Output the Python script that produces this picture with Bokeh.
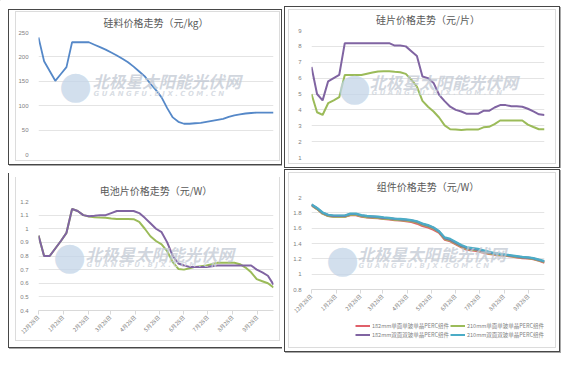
import pandas as pd
from bokeh.plotting import figure
from bokeh.models import Range1d, FixedTicker, Label, Legend, LegendItem, Title
from bokeh.layouts import row, column
from bokeh.embed import file_html
from bokeh.resources import INLINE

# weekly quotations
dates = pd.date_range("2022-12-28", periods=43, freq="7D")
tick_dates = pd.date_range("2022-12-28", periods=10, freq=pd.DateOffset(months=1))

# 硅料 (元/kg)
polysilicon = [240, 191, 171, 151, 165, 179, 230, 230, 230, 230, 225, 220, 215, 209, 203,
               196, 189, 180, 170, 160, 145, 132, 117, 95, 76, 67, 63, 63, 64, 65, 67, 69,
               71, 73, 77, 80, 82, 84, 85, 86, 86, 86, 86]

# 硅片 (元/片)
wafer_purple = [6.7, 5.0, 4.6, 5.8, 6.0, 6.2, 8.2, 8.2, 8.2, 8.2, 8.2, 8.2, 8.2, 8.2, 8.2,
                8.05, 8.05, 8.0, 7.7, 7.4, 6.1, 6.0, 5.7, 4.95, 4.55, 4.2, 4.0, 3.9, 3.75,
                3.75, 3.75, 3.94, 3.94, 4.15, 4.3, 4.3, 4.23, 4.23, 4.2, 4.07, 3.9, 3.72, 3.68]
wafer_green = [5.0, 3.85, 3.68, 4.42, 4.6, 4.8, 6.2, 6.2, 6.2, 6.2, 6.28, 6.35, 6.42, 6.44,
               6.44, 6.4, 6.37, 6.27, 5.9, 5.47, 4.57, 4.2, 3.9, 3.52, 3.02, 2.78, 2.76, 2.73,
               2.76, 2.76, 2.76, 2.9, 2.93, 3.1, 3.33, 3.33, 3.33, 3.33, 3.33, 3.07, 2.92, 2.78, 2.78]

# 电池片 (元/W)
cell_purple = [0.95, 0.80, 0.80, 0.855, 0.91, 0.97, 1.145, 1.13, 1.10, 1.092, 1.095, 1.10,
               1.10, 1.115, 1.13, 1.13, 1.13, 1.13, 1.115, 1.08, 1.04, 1.0, 0.975, 0.90, 0.80,
               0.745, 0.73, 0.72, 0.72, 0.72, 0.72, 0.725, 0.73, 0.73, 0.73, 0.73, 0.73, 0.73,
               0.73, 0.70, 0.68, 0.655, 0.59]
cell_green = [0.95, 0.80, 0.80, 0.855, 0.91, 0.97, 1.145, 1.13, 1.10, 1.09, 1.085, 1.082,
              1.08, 1.075, 1.072, 1.072, 1.072, 1.07, 1.05, 1.0, 0.945, 0.91, 0.885, 0.835,
              0.755, 0.705, 0.70, 0.71, 0.72, 0.725, 0.73, 0.74, 0.75, 0.75, 0.75, 0.75, 0.74,
              0.715, 0.68, 0.63, 0.615, 0.60, 0.57]

# 组件 (元/W)
module_names = ["182mm单面单玻单晶PERC组件", "210mm单面单玻单晶PERC组件",
                "182mm双面双玻单晶PERC组件", "210mm双面双玻单晶PERC组件"]
module_182_mono = [1.90, 1.85, 1.79, 1.76, 1.75, 1.75, 1.75, 1.77, 1.77, 1.75, 1.74, 1.735,
                   1.73, 1.72, 1.715, 1.705, 1.70, 1.69, 1.68, 1.66, 1.63, 1.61, 1.58, 1.54,
                   1.45, 1.43, 1.39, 1.35, 1.32, 1.31, 1.30, 1.28, 1.265, 1.255, 1.245, 1.24,
                   1.23, 1.22, 1.21, 1.205, 1.195, 1.175, 1.15]
module_210_mono = [1.90, 1.85, 1.79, 1.76, 1.75, 1.75, 1.75, 1.775, 1.775, 1.755, 1.745, 1.74,
                   1.735, 1.725, 1.72, 1.71, 1.705, 1.70, 1.69, 1.675, 1.645, 1.625, 1.595,
                   1.55, 1.46, 1.44, 1.40, 1.36, 1.33, 1.32, 1.31, 1.29, 1.27, 1.26, 1.25,
                   1.245, 1.235, 1.225, 1.215, 1.21, 1.20, 1.18, 1.16]
module_182_bi = [1.905, 1.86, 1.80, 1.77, 1.76, 1.76, 1.76, 1.785, 1.785, 1.765, 1.755, 1.75,
                 1.745, 1.735, 1.73, 1.72, 1.715, 1.71, 1.70, 1.685, 1.655, 1.635, 1.605,
                 1.555, 1.47, 1.45, 1.41, 1.37, 1.34, 1.33, 1.32, 1.30, 1.28, 1.27, 1.26, 1.25,
                 1.24, 1.23, 1.22, 1.215, 1.205, 1.185, 1.165]
module_210_bi = [1.91, 1.865, 1.805, 1.775, 1.765, 1.765, 1.765, 1.79, 1.79, 1.77, 1.76, 1.755,
                 1.75, 1.74, 1.735, 1.725, 1.72, 1.715, 1.705, 1.69, 1.66, 1.64, 1.61, 1.56,
                 1.48, 1.46, 1.42, 1.38, 1.35, 1.34, 1.33, 1.31, 1.29, 1.275, 1.265, 1.255,
                 1.245, 1.235, 1.225, 1.22, 1.21, 1.19, 1.17]

ticks_poly = [0, 50, 100, 150, 200, 250]
ticks_wafer = [1, 2, 3, 4, 5, 6, 7, 8, 9]
ticks_cell = [0.4, 0.5, 0.6, 0.7, 0.8, 0.9, 1, 1.1, 1.2]
labels_cell = ["0.4", "0.5", "0.6", "0.7", "0.8", "0.9", "1", "1.1", "1.2"]
ticks_module = [0.8, 1, 1.2, 1.4, 1.6, 1.8, 2]
labels_module = ["0.8", "1", "1.2", "1.4", "1.6", "1.8", "2"]

days = [(d - dates[0]).days for d in dates]
tick_days = [(d - dates[0]).days for d in tick_dates]
tick_labels = [f"{d.month}月{d.day}日" for d in tick_dates]

CJK = "Noto Sans CJK SC"
BLUE, PURPLE, GREEN, RED, CYAN = "#5588c8", "#8064a2", "#9bbb59", "#e0606a", "#4bacc6"
DARK, SHADOW, LIGHT = "#474747", "#a8a8a8", "#dcdcdc"


def seg(color, x, y, w, h):
    return f"linear-gradient({color},{color}) {x}px {y}px / {w}px {h}px no-repeat"


def frame_css(outer, inner, sides="tblr", extra=()):
    """CSS background drawing the screenshot frame lines (element pixel coords)."""
    x0, y0, x1, y1 = outer
    layers = list(extra)
    if "t" in sides:
        layers.append(seg(DARK, x0, y0, x1 - x0 + 1, 1))
    if "b" in sides:
        layers += [seg(DARK, x0, y1, x1 - x0 + 1, 1), seg(SHADOW, x0 + 1, y1 + 1, x1 - x0 + 1, 1)]
    if "l" in sides:
        layers.append(seg(DARK, x0, y0, 1, y1 - y0 + 1))
    if "r" in sides:
        layers += [seg(DARK, x1, y0, 1, y1 - y0 + 1), seg(SHADOW, x1 + 1, y0 + 1, 1, y1 - y0 + 1)]
    a0, b0, a1, b1 = inner
    if "t" in sides:
        layers.append(seg(LIGHT, a0, b0, a1 - a0 + 1, 1))
    if "b" in sides:
        layers.append(seg(LIGHT, a0, b1, a1 - a0 + 1, 1))
    layers.append(seg(LIGHT, a0, b0, 1, b1 - b0 + 1))
    layers.append(seg(LIGHT, a1, b0, 1, b1 - b0 + 1))
    return {"background": ", ".join(layers) + ", #ffffff"}


def panel(w, h, mb, css, yr, yticks, ylabels, title, title_offset, standoff, show_x):
    p = figure(width=w, height=h, output_backend="svg", toolbar_location=None,
               x_range=Range1d(days[0], days[-1]), y_range=Range1d(*yr),
               min_border_left=mb[0], min_border_right=mb[1],
               min_border_top=mb[2], min_border_bottom=mb[3],
               outline_line_color=None, background_fill_alpha=0,
               border_fill_alpha=0, styles=css)
    p.title = Title(text=title, text_font=CJK, text_font_size="10px", text_font_style="normal",
                    text_color="#595959", align="center", offset=title_offset, standoff=standoff)
    p.xgrid.visible = False
    p.ygrid.grid_line_color = "#e4e4e4"
    p.yaxis.ticker = FixedTicker(ticks=yticks)
    p.yaxis.major_label_overrides = {t: l for t, l in zip(yticks, ylabels)}
    p.yaxis.axis_line_color = None
    p.yaxis.major_tick_line_color = None
    p.yaxis.minor_tick_line_color = None
    p.yaxis.major_label_text_font_size = "6px"
    p.yaxis.major_label_text_color = "#808080"
    p.yaxis.major_label_text_font = "Liberation Sans"
    p.yaxis.major_label_standoff = 4
    if show_x:
        p.xaxis.ticker = FixedTicker(ticks=tick_days)
        p.xaxis.major_label_overrides = {t: l for t, l in zip(tick_days, tick_labels)}
        p.xaxis.axis_line_color = "#d9d9d9"
        p.xaxis.major_tick_line_color = "#d9d9d9"
        p.xaxis.major_tick_out = 4
        p.xaxis.major_tick_in = 0
        p.xaxis.minor_tick_line_color = None
        p.xaxis.major_label_orientation = 0.785
        p.xaxis.major_label_text_font_size = "5.5px"
        p.xaxis.major_label_text_font = CJK
        p.xaxis.major_label_text_color = "#808080"
        p.xaxis.major_label_standoff = 2
    else:
        p.xaxis.visible = False
    return p


def watermark(p, cn, en, logo):
    p.add_layout(Label(x=logo[0], y=logo[1], x_units="screen", y_units="screen", text="●",
                       text_font="DejaVu Sans", text_font_size="38px", text_color="#c3d5e8",
                       text_alpha=0.75, text_align="center", text_baseline="middle"))
    p.add_layout(Label(x=cn[0], y=cn[1], x_units="screen", y_units="screen",
                       text="北极星太阳能光伏网", text_font=CJK, text_font_size="16.5px",
                       text_font_style="bold italic", text_color="#c2c9d3", text_alpha=0.75,
                       text_baseline="middle"))
    p.add_layout(Label(x=en[0], y=en[1], x_units="screen", y_units="screen",
                       text="G U A N G F U . B J X . C O M . C N", text_font="DejaVu Sans",
                       text_font_size="7px", text_font_style="bold italic",
                       text_color="#cfd5dd", text_alpha=0.8, text_baseline="middle"))


# top-left: element at page (8, 8), 282 x 167 (faint corner pixel keeps the page origin)
p1 = panel(282, 167, (31, 8, 32, 13),
           frame_css((8, 9, 281, 164), (15, 11, 279, 160), extra=[seg("#ececec", 0, 0, 1, 1)]),
           (0, 250), ticks_poly, [str(t) for t in ticks_poly],
           "硅料价格走势（元/kg）", -6, 5, False)
p1.line(days, polysilicon, line_color=BLUE, line_width=1.8)
watermark(p1, (54, 74), (55, 61), (37, 70))

# top-right: element at page (290, 8), 279 x 168
p2 = panel(279, 168, (17, 16, 30, 11), frame_css((2, 6, 277, 167), (6, 9, 273, 163)),
           (1, 9), ticks_wafer, [str(t) for t in ticks_wafer],
           "硅片价格走势（元/片）", -3, 7, False)
p2.line(days, wafer_green, line_color=GREEN, line_width=2)
p2.line(days, wafer_purple, line_color=PURPLE, line_width=2)
watermark(p2, (58, 76), (60, 65), (43, 71))

# bottom-left: element at page (8, 175), 282 x 183
p3 = panel(282, 183, (38, 9, 34, 40), frame_css((8, 6, 281, 180), (15, 10, 279, 173), "bl"),
           (0.4, 1.2), ticks_cell, labels_cell,
           "电池片价格走势（元/W）", -9, 7, True)
p3.line(days, cell_green, line_color=GREEN, line_width=2)
p3.line(days, cell_purple, line_color=PURPLE, line_width=2)
watermark(p3, (47, 57), (48, 46), (31, 55))

# bottom-right: element at page (290, 176), 279 x 152, legend strip below it
p4 = panel(279, 152, (29, 17, 29, 31), frame_css((2, 1, 277, 400), (6, 4, 273, 400), "tlr"),
           (0.8, 2), ticks_module, labels_module,
           "组件价格走势（元/W）", -9, 8, True)
series = [module_182_mono, module_210_mono, module_182_bi, module_210_bi]
colors = [RED, GREEN, PURPLE, CYAN]
for s, c in zip(series, colors):
    p4.line(days, s, line_color=c, line_width=2.2)
watermark(p4, (46, 36), (47, 24), (31, 31))

# legend strip: element at page (290, 328), 279 x 34
strip_css = frame_css((2, -10, 277, 31), (6, -10, 273, 27), "blr")
pl = figure(width=279, height=34, output_backend="svg", toolbar_location=None,
            x_range=Range1d(-1000, -999), y_range=Range1d(-1000, -999), min_border=0,
            outline_line_color=None, background_fill_alpha=0, border_fill_alpha=0,
            styles=strip_css)
pl.axis.visible = False
pl.grid.visible = False
leg_r = [pl.line(days, s, line_color=c, line_width=2) for s, c in zip(series, colors)]
legend_spots = [(44, 24.5), (139, 24.5), (44, 15.5), (139, 15.5)]
for name, r, loc in zip(module_names, leg_r, legend_spots):
    pl.add_layout(Legend(items=[LegendItem(label=name, renderers=[r])], location=loc,
                         padding=0, margin=0, glyph_width=15, glyph_height=7, label_height=7,
                         label_standoff=2, label_text_font=CJK, label_text_font_size="5.5px",
                         label_text_color="#7f7f7f", border_line_color=None,
                         background_fill_alpha=0), "center")

layout = row(column(p1, p3), column(p2, p4, pl))

open("out.html", "w").write(file_html(layout, INLINE))
